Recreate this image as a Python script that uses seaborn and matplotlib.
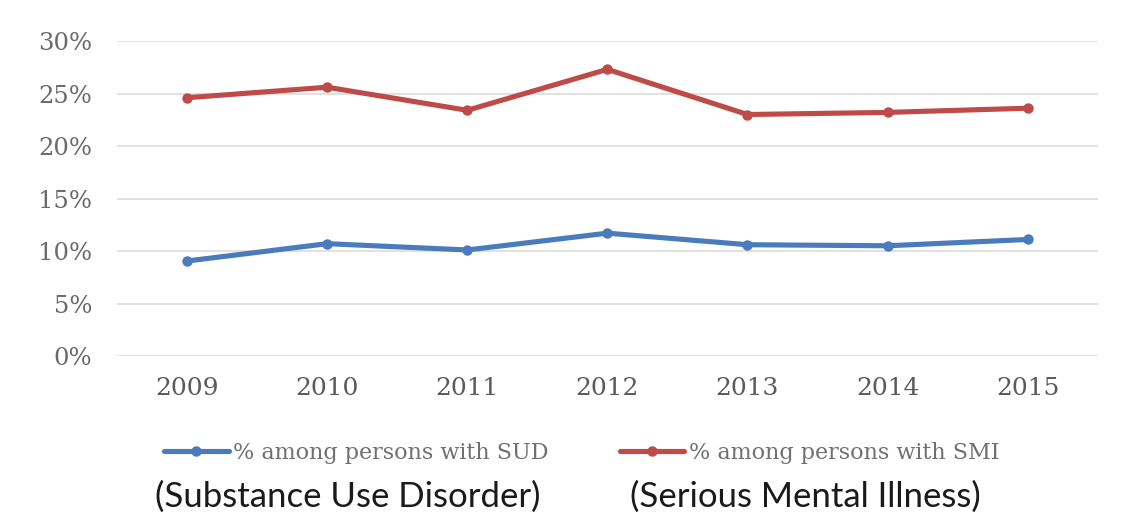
import matplotlib
matplotlib.use("Agg")
import matplotlib.pyplot as plt
import seaborn as sns
import pandas as pd

years = ["2009", "2010", "2011", "2012", "2013", "2014", "2015"]
sud_pct = [9.05, 10.7, 10.1, 11.7, 10.6, 10.5, 11.1]
smi_pct = [24.6, 25.6, 23.4, 27.3, 23.0, 23.2, 23.6]
series_names = ["% among persons with SUD", "% among persons with SMI"]
y_ticks = [0, 5, 10, 15, 20, 25, 30]
notes = ["(Substance Use Disorder)", "(Serious Mental Illness)"]

df = pd.DataFrame({
    "year": years * 2,
    "value": sud_pct + smi_pct,
    "series": [series_names[0]] * len(years) + [series_names[1]] * len(years),
})

sns.set_theme(style="white")
plt.rcParams["font.family"] = ["DejaVu Serif"]

fig = plt.figure(figsize=(11.34, 5.19), dpi=100)
ax = fig.add_axes([0.1032, 0.314, 0.8648, 0.607])

palette = {series_names[0]: "#4A7BBD", series_names[1]: "#BE4B48"}
sns.lineplot(data=df, x="year", y="value", hue="series", palette=palette,
             marker="o", markersize=7.5, linewidth=3.7, markeredgewidth=0,
             sort=False, ax=ax)

ax.set_xlim(-0.5, len(years) - 0.5)
ax.set_ylim(0, 30)
ax.set_yticks(y_ticks)
ax.set_yticklabels([f"{t}%" for t in y_ticks])
ax.yaxis.grid(True, color="#DCDCDC", linewidth=1.2)
ax.xaxis.grid(False)
for s in ax.spines.values():
    s.set_visible(False)
ax.tick_params(axis="y", labelsize=17.5, labelcolor="#6A6A6A", pad=18, length=0)
ax.tick_params(axis="x", labelsize=18, labelcolor="#5A5A5A", pad=15, length=0)
ax.set_xlabel("")
ax.set_ylabel("")

handles, labels = ax.get_legend_handles_labels()
ax.legend(handles, labels, loc="center left", bbox_to_anchor=(0.1349, 0.127),
          bbox_transform=fig.transFigure, ncol=2, frameon=False, borderpad=0,
          fontsize=16, handlelength=2.9, handletextpad=0.22, columnspacing=3.2,
          labelcolor="#707070")

fig.text(0.1367, 0.0424, notes[0], fontsize=25, va="center",
         family=["Lato", "DejaVu Sans"], color="#1A1A1A")
fig.text(0.5556, 0.0424, notes[1], fontsize=25, va="center",
         family=["Lato", "DejaVu Sans"], color="#1A1A1A")

fig.savefig("out.png", dpi=100, facecolor="white")
